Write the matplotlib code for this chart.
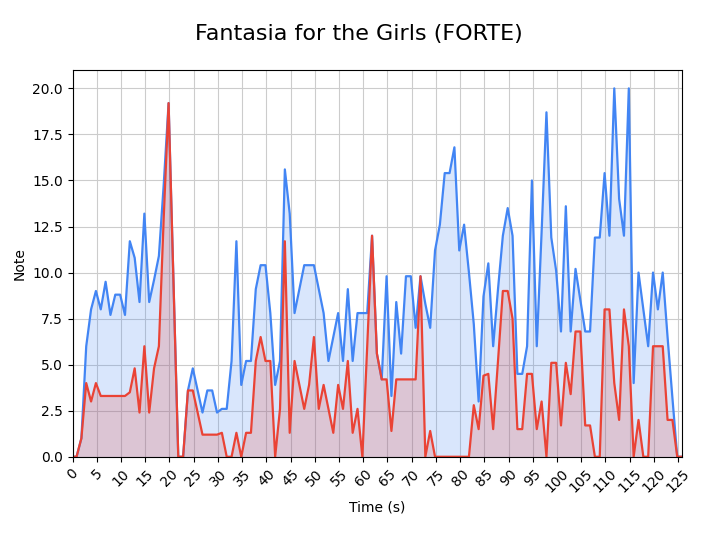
import numpy as np
from matplotlib import pyplot as plt

#%% data, one sample per second
time_s = np.concatenate([[0], np.arange(1, 127) - 0.17])

all_notes = [0, 0, 1.0, 6.0, 8.0, 9.0, 8.0, 9.5, 7.7, 8.8,
             8.8, 7.7, 11.7, 10.8, 8.4, 13.2, 8.4, 9.6, 10.9, 14.8,
             19.2, 9.6, 0, 0, 3.6, 4.8, 3.6, 2.4, 3.6, 3.6,
             2.4, 2.6, 2.6, 5.2, 11.7, 3.9, 5.2, 5.2, 9.1, 10.4,
             10.4, 7.8, 3.9, 5.2, 15.6, 13.2, 7.8, 9.1, 10.4, 10.4,
             10.4, 9.1, 7.8, 5.2, 6.5, 7.8, 5.2, 9.1, 5.2, 7.8,
             7.8, 7.8, 12.0, 5.6, 4.2, 9.8, 3.3, 8.4, 5.6, 9.8,
             9.8, 7.0, 9.8, 8.3, 7.0, 11.2, 12.6, 15.4, 15.4, 16.8,
             11.2, 12.6, 10.0, 7.2, 3.0, 8.7, 10.5, 6.0, 9.1, 12.0,
             13.5, 12.0, 4.5, 4.5, 6.0, 15.0, 6.0, 12.2, 18.7, 11.9,
             10.1, 6.8, 13.6, 6.8, 10.2, 8.5, 6.8, 6.8, 11.9, 11.9,
             15.4, 12.0, 20.0, 14.0, 12.0, 20.0, 4.0, 10.0, 8.0, 6.0,
             10.0, 8.0, 10.0, 6.5, 3.2, 0, 0]

forte_notes = [0, 0, 1.0, 4.0, 3.0, 4.0, 3.3, 3.3, 3.3, 3.3,
               3.3, 3.3, 3.5, 4.8, 2.4, 6.0, 2.4, 4.8, 6.0, 13.0,
               19.2, 9.6, 0, 0, 3.6, 3.6, 2.4, 1.2, 1.2, 1.2,
               1.2, 1.3, 0, 0, 1.3, 0, 1.3, 1.3, 5.2, 6.5,
               5.2, 5.2, 0, 2.6, 11.7, 1.3, 5.2, 3.9, 2.6, 3.9,
               6.5, 2.6, 3.9, 2.6, 1.3, 3.9, 2.6, 5.2, 1.3, 2.6,
               0, 6.0, 12.0, 5.6, 4.2, 4.2, 1.4, 4.2, 4.2, 4.2,
               4.2, 4.2, 9.8, 0, 1.4, 0, 0, 0, 0, 0,
               0, 0, 0, 2.8, 1.5, 4.4, 4.5, 1.5, 5.2, 9.0,
               9.0, 7.5, 1.5, 1.5, 4.5, 4.5, 1.5, 3.0, 0, 5.1,
               5.1, 1.7, 5.1, 3.4, 6.8, 6.8, 1.7, 1.7, 0, 0,
               8.0, 8.0, 4.0, 2.0, 8.0, 6.0, 0, 2.0, 0, 0,
               6.0, 6.0, 6.0, 2.0, 2.0, 0, 0]

blue = '#4285F4'
red = '#EA4335'

#%% plot
fig = plt.figure(figsize=(7.18, 5.38), dpi=100)
ax = fig.add_axes([0.101, 0.151, 0.849, 0.719])

ax.plot(time_s, all_notes, color=blue, lw=1.6)
ax.fill_between(time_s, all_notes, color=blue, alpha=0.2, lw=0)
ax.plot(time_s, forte_notes, color=red, lw=1.6)
ax.fill_between(time_s, forte_notes, color=red, alpha=0.2, lw=0)

ax.set_xlim(0, time_s[-1])
ax.set_ylim(0, 21)
ax.set_xticks(np.arange(0, 126, 5))
plt.xticks(rotation=45)
ax.grid(True, color='#cccccc', lw=0.8)
ax.set_axisbelow(True)
ax.set_xlabel('Time (s)')
ax.set_ylabel('Note')
fig.suptitle('Fantasia for the Girls (FORTE)', fontsize=16, y=0.955)

fig.savefig('out.png', dpi=100)
